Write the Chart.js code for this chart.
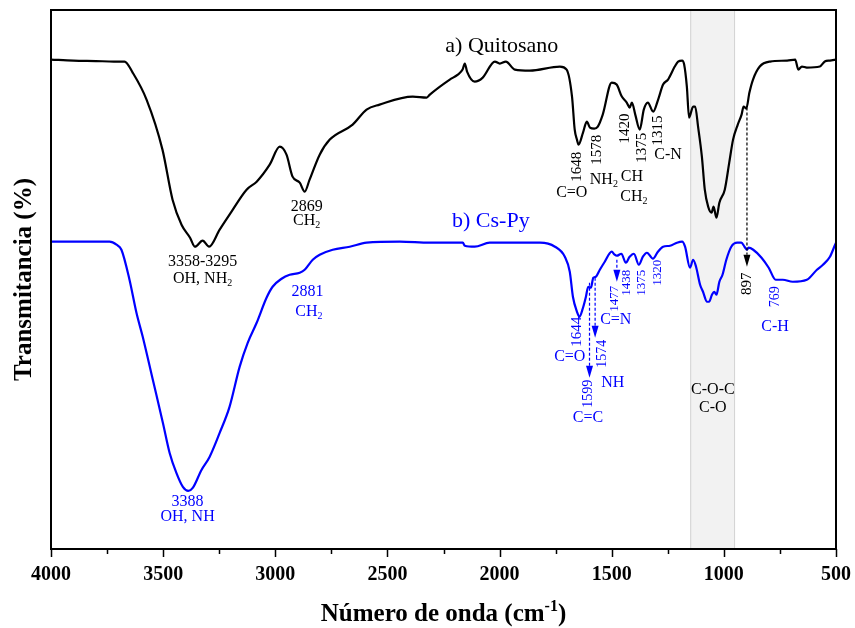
<!DOCTYPE html>
<html lang="es">
<head>
<meta charset="utf-8">
<title>FTIR Quitosano / Cs-Py</title>
<script src="https://cdn.jsdelivr.net/npm/chart.js@4.4.1/dist/chart.umd.min.js"></script>
<style>
  html, body { margin: 0; padding: 0; background: #fff; }
  #wrap { width: 855px; height: 628px; }
</style>
</head>
<body>
<div id="wrap"><canvas id="ftir" width="855" height="628"></canvas></div>
<script>
// Spectra: wavenumber (cm-1) and transmittance (a.u.)
const QUITOSANO_WN = [4000, 3900, 3800, 3720, 3672, 3636, 3574, 3503, 3458, 3418, 3380, 3358, 3324, 3295, 3248, 3204, 3128, 3083, 3025, 2980,
    2950, 2923, 2891, 2869, 2847, 2802, 2757, 2655, 2593, 2535, 2387, 2325, 2311, 2222, 2186, 2165, 2155, 2145, 2111, 2075,
    2021, 1999, 1972, 1932, 1865, 1731, 1701, 1677, 1665, 1655, 1648, 1628, 1611, 1597, 1578, 1562, 1540, 1500, 1478, 1455,
    1433, 1420, 1410, 1395, 1375, 1357, 1339, 1315, 1293, 1271, 1249, 1219, 1204, 1186, 1177, 1165, 1155, 1137, 1128, 1115,
    1098, 1085, 1070, 1055, 1046, 1033, 1020, 996, 976, 959, 938, 921, 912, 900, 886, 870, 840, 794, 718, 682,
    668, 652, 630, 572, 550, 527, 500];
const QUITOSANO_T = [97.8, 97.6, 97.5, 97.4, 97.4, 95.2, 89.8, 79.8, 69.8, 64.8, 62.2, 60.4, 61.6, 60.4, 63.8, 66.8, 71.8, 73.4, 76.8, 80.4,
    78.8, 74.4, 73.2, 71.4, 73.8, 78.8, 81.8, 84.8, 87.8, 88.8, 90.4, 90.2, 90.8, 93.8, 94.8, 95.8, 97.0, 95.4, 93.4, 94.2,
    97.4, 97.0, 97.4, 95.8, 95.6, 96.4, 95.8, 90.4, 83.8, 81.8, 80.8, 83.2, 85.4, 84.2, 84.0, 84.4, 86.8, 93.2, 92.8, 90.4,
    89.2, 88.2, 89.2, 86.8, 83.8, 87.8, 89.2, 87.4, 89.8, 92.8, 93.8, 96.4, 97.4, 97.6, 96.8, 92.4, 86.2, 88.4, 88.4, 84.4,
    78.4, 71.8, 68.4, 67.2, 68.4, 66.2, 69.2, 71.8, 77.2, 81.8, 84.8, 86.8, 88.4, 88.0, 91.2, 93.8, 96.4, 97.4, 97.6, 97.8,
    95.8, 96.4, 96.2, 96.4, 97.4, 97.6, 97.8];

const CSPY_WN = [4000, 3800, 3739, 3708, 3686, 3650, 3619, 3591, 3546, 3501, 3471, 3441, 3412, 3388, 3368, 3329, 3293, 3248, 3204, 3159,
    3123, 3083, 3039, 3012, 2972, 2936, 2891, 2869, 2833, 2802, 2744, 2668, 2593, 2445, 2311, 2164, 2155, 2111, 2044, 1968,
    1820, 1753, 1709, 1687, 1673, 1655, 1644, 1628, 1615, 1605, 1593, 1582, 1571, 1553, 1531, 1500, 1487, 1477, 1457, 1437,
    1420, 1401, 1379, 1361, 1343, 1316, 1294, 1271, 1240, 1209, 1186, 1173, 1151, 1137, 1124, 1106, 1093, 1075, 1066, 1053,
    1043, 1033, 1020, 1006, 989, 967, 940, 922, 908, 897, 890, 869, 832, 800, 769, 737, 693, 630, 585, 558,
    527, 504, 500];
const CSPY_T = [61.4, 61.4, 61.4, 60.8, 59.8, 53.8, 47.2, 42.4, 33.8, 25.2, 19.2, 15.2, 12.4, 11.6, 12.2, 15.8, 18.4, 23.2, 28.4, 36.4,
    41.2, 45.2, 50.2, 52.4, 54.0, 54.8, 55.2, 55.8, 57.8, 58.8, 59.8, 60.4, 61.2, 61.4, 61.2, 61.2, 60.6, 60.4, 61.2, 61.2,
    61.2, 60.4, 58.4, 55.4, 50.4, 47.4, 46.4, 48.2, 50.4, 52.4, 52.2, 54.2, 54.4, 55.8, 57.4, 59.4, 58.8, 58.6, 59.0, 57.2,
    58.4, 59.0, 56.8, 58.4, 59.2, 58.0, 59.4, 60.4, 60.6, 61.2, 61.4, 60.4, 56.2, 57.8, 56.4, 52.8, 51.4, 49.4, 49.4, 50.8,
    51.4, 50.8, 53.4, 54.8, 57.8, 60.4, 61.2, 61.2, 60.4, 59.8, 60.2, 59.8, 58.2, 56.2, 53.8, 53.8, 53.4, 53.8, 55.8, 56.8,
    58.4, 60.8, 61.2];

const X_TICKS = [4000, 3500, 3000, 2500, 2000, 1500, 1000, 500];
const BAND = [1150, 950];   // C-O-C / C-O region

const BLACK = '#000000';
const BLUE = '#0000ff';
const SERIF = '"Liberation Serif", "Times New Roman", serif';

// Peak annotations, anchored in data coordinates. "_{}" = subscript
const NOTES = [
    { text: 'a) Quitosano', x: 1990, y: 100.4, color: BLACK, size: 22 },
    { text: '3358-3295', x: 3324, y: 57.4, color: BLACK, size: 16 },
    { text: 'OH, NH_{2}', x: 3324, y: 54.0, color: BLACK, size: 16 },
    { text: '2869', x: 2860, y: 68.4, color: BLACK, size: 16 },
    { text: 'CH_{2}', x: 2860, y: 65.6, color: BLACK, size: 16 },
    { text: '1648', x: 1655, y: 76.4, color: BLACK, size: 15, rot: true },
    { text: 'C=O', x: 1678, y: 71.2, color: BLACK, size: 16 },
    { text: '1578', x: 1566, y: 79.8, color: BLACK, size: 15, rot: true },
    { text: 'NH_{2}', x: 1535, y: 73.8, color: BLACK, size: 16 },
    { text: '1420', x: 1441, y: 84.0, color: BLACK, size: 15, rot: true },
    { text: '1375', x: 1365, y: 80.2, color: BLACK, size: 15, rot: true },
    { text: '1315', x: 1294, y: 83.6, color: BLACK, size: 15, rot: true },
    { text: 'C-N', x: 1249, y: 78.8, color: BLACK, size: 16 },
    { text: 'CH', x: 1410, y: 74.4, color: BLACK, size: 16 },
    { text: 'CH_{2}', x: 1401, y: 70.4, color: BLACK, size: 16 },
    { text: '897', x: 897, y: 53.0, color: BLACK, size: 15, rot: true },
    { text: 'C-O-C', x: 1049, y: 31.8, color: BLACK, size: 16 },
    { text: 'C-O', x: 1049, y: 28.2, color: BLACK, size: 16 },

    { text: 'b) Cs-Py', x: 2039, y: 65.4, color: BLUE, size: 22 },
    { text: '2881', x: 2856, y: 51.4, color: BLUE, size: 16 },
    { text: 'CH_{2}', x: 2850, y: 47.4, color: BLUE, size: 16 },
    { text: '3388', x: 3391, y: 9.4, color: BLUE, size: 16 },
    { text: 'OH, NH', x: 3391, y: 6.4, color: BLUE, size: 16 },
    { text: '1644', x: 1655, y: 43.4, color: BLUE, size: 15, rot: true },
    { text: 'C=O', x: 1687, y: 38.4, color: BLUE, size: 16 },
    { text: '1574', x: 1544, y: 39.0, color: BLUE, size: 14, rot: true },
    { text: '1599', x: 1606, y: 31.0, color: BLUE, size: 14, rot: true },
    { text: 'C=C', x: 1606, y: 26.2, color: BLUE, size: 16 },
    { text: 'NH', x: 1495, y: 33.2, color: BLUE, size: 16 },
    { text: '1477', x: 1486, y: 50.0, color: BLUE, size: 13, rot: true },
    { text: 'C=N', x: 1482, y: 45.8, color: BLUE, size: 16 },
    { text: '1438', x: 1432, y: 53.2, color: BLUE, size: 13, rot: true },
    { text: '1375', x: 1365, y: 53.2, color: BLUE, size: 13, rot: true },
    { text: '1320', x: 1294, y: 55.2, color: BLUE, size: 13, rot: true },
    { text: '769', x: 772, y: 50.4, color: BLUE, size: 14, rot: true },
    { text: 'C-H', x: 772, y: 44.4, color: BLUE, size: 16 }
];

// Dotted arrows from a peak down to its label
const ARROWS = [
    { x: 1599, from: 53.2, to: 34.2, color: BLUE },
    { x: 1574, from: 54.2, to: 42.2, color: BLUE },
    { x: 1477, from: 57.8, to: 53.4, color: BLUE },
    { x: 897, from: 88.2, to: 56.4, color: BLACK }
];

function toPoints(xs, ys) {
    return xs.map((x, i) => ({ x: x, y: ys[i] }));
}

// Draws text centred on (0,0) with _{sub} and ^{sup} pieces
function drawRich(ctx, text, size, weight, color) {
    const parts = [];
    const re = /([_^])\{([^}]*)\}/g;
    let last = 0, m;
    while ((m = re.exec(text))) {
        if (m.index > last) parts.push({ t: text.slice(last, m.index), mode: 0 });
        parts.push({ t: m[2], mode: m[1] === '_' ? 1 : 2 });
        last = re.lastIndex;
    }
    if (last < text.length) parts.push({ t: text.slice(last), mode: 0 });

    const fontFor = p => `${weight} ${p.mode ? Math.round(size * 0.65) : size}px ${SERIF}`;
    let total = 0;
    parts.forEach(p => {
        ctx.font = fontFor(p);
        p.w = ctx.measureText(p.t).width;
        total += p.w;
    });

    ctx.fillStyle = color;
    ctx.textBaseline = 'middle';
    ctx.textAlign = 'left';
    let cx = -total / 2;
    parts.forEach(p => {
        ctx.font = fontFor(p);
        const dy = p.mode === 1 ? size * 0.3 : p.mode === 2 ? -size * 0.32 : 0;
        ctx.fillText(p.t, cx, dy);
        cx += p.w;
    });
}

function textAt(ctx, text, px, py, opts) {
    ctx.save();
    ctx.translate(px, py);
    if (opts.rot) ctx.rotate(-Math.PI / 2);
    drawRich(ctx, text, opts.size, opts.weight || 'normal', opts.color || BLACK);
    ctx.restore();
}

const spectrumDecor = {
    id: 'spectrumDecor',
    beforeDatasetsDraw(chart) {
        const { ctx, chartArea: a, scales: { x } } = chart;
        const x1 = x.getPixelForValue(BAND[0]);
        const x2 = x.getPixelForValue(BAND[1]);
        ctx.save();
        ctx.fillStyle = '#f2f2f2';
        ctx.fillRect(x1, a.top, x2 - x1, a.bottom - a.top);
        ctx.strokeStyle = '#d3d3d3';
        ctx.lineWidth = 1;
        ctx.beginPath();
        ctx.moveTo(x1 + 0.5, a.top);
        ctx.lineTo(x1 + 0.5, a.bottom);
        ctx.moveTo(x2 - 0.5, a.top);
        ctx.lineTo(x2 - 0.5, a.bottom);
        ctx.stroke();
        ctx.restore();
    },
    afterDatasetsDraw(chart) {
        const { ctx, chartArea: a, scales: { x, y } } = chart;
        ctx.save();

        // frame
        ctx.strokeStyle = BLACK;
        ctx.lineWidth = 2;
        ctx.strokeRect(a.left, a.top, a.right - a.left, a.bottom - a.top);

        // major and minor ticks, pointing out of the frame
        ctx.lineWidth = 1.5;
        ctx.beginPath();
        for (let v = 500; v <= 4000; v += 250) {
            const px = Math.round(x.getPixelForValue(v)) + 0.5;
            const len = v % 500 === 0 ? 8 : 5;
            ctx.moveTo(px, a.bottom);
            ctx.lineTo(px, a.bottom + len);
        }
        ctx.stroke();

        // dotted arrows
        ARROWS.forEach(ar => {
            const px = x.getPixelForValue(ar.x);
            const y0 = y.getPixelForValue(ar.from);
            const y1 = y.getPixelForValue(ar.to);
            const head = 12;
            ctx.strokeStyle = ar.color;
            ctx.fillStyle = ar.color;
            ctx.lineWidth = 1.2;
            ctx.setLineDash([3, 2]);
            ctx.beginPath();
            ctx.moveTo(px, y0);
            ctx.lineTo(px, y1 - head);
            ctx.stroke();
            ctx.setLineDash([]);
            ctx.beginPath();
            ctx.moveTo(px - 3.5, y1 - head);
            ctx.lineTo(px + 3.5, y1 - head);
            ctx.lineTo(px, y1);
            ctx.closePath();
            ctx.fill();
        });

        NOTES.forEach(n => {
            textAt(ctx, n.text, x.getPixelForValue(n.x), y.getPixelForValue(n.y), n);
        });

        // axis titles
        textAt(ctx, 'Transmitancia (%)', a.left - 26, (a.top + a.bottom) / 2,
            { rot: true, size: 25, weight: 'bold' });
        textAt(ctx, 'Número de onda (cm^{-1})', (a.left + a.right) / 2, a.bottom + 66,
            { size: 25, weight: 'bold' });

        ctx.restore();
    }
};

const seriesStyle = {
    borderWidth: 2.2,
    pointRadius: 0,
    fill: false,
    cubicInterpolationMode: 'monotone'
};

new Chart(document.getElementById('ftir'), {
    type: 'line',
    data: {
        datasets: [
            { ...seriesStyle, label: 'a) Quitosano', data: toPoints(QUITOSANO_WN, QUITOSANO_T), borderColor: BLACK },
            { ...seriesStyle, label: 'b) Cs-Py', data: toPoints(CSPY_WN, CSPY_T), borderColor: BLUE }
        ]
    },
    options: {
        responsive: false,
        animation: false,
        events: [],
        layout: { padding: { top: 10, right: 19, left: 0, bottom: 0 } },
        plugins: {
            legend: { display: false },
            tooltip: { enabled: false }
        },
        scales: {
            x: {
                type: 'linear',
                reverse: true,
                min: 500,
                max: 4000,
                afterBuildTicks: scale => { scale.ticks = X_TICKS.map(v => ({ value: v })); },
                ticks: {
                    color: BLACK,
                    padding: 14,
                    maxRotation: 0,
                    autoSkip: false,
                    font: { family: SERIF, size: 20, weight: 'bold' },
                    callback: v => String(v)
                },
                grid: { display: false, drawTicks: false },
                border: { display: false },
                afterFit: scale => {
                    scale.height = 79;
                    scale.paddingLeft = 0;
                    scale.paddingRight = 0;
                }
            },
            y: {
                min: 0,
                max: 107.7,
                ticks: { display: false },
                grid: { display: false, drawTicks: false },
                border: { display: false },
                afterFit: scale => { scale.width = 51; }
            }
        }
    },
    plugins: [spectrumDecor]
});
</script>
</body>
</html>
